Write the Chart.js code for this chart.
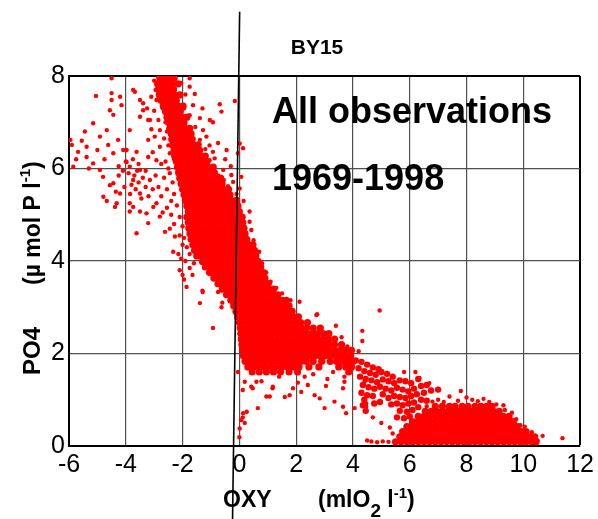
<!DOCTYPE html>
<html>
<head>
<meta charset="utf-8">
<script src="https://cdn.jsdelivr.net/npm/chart.js@4.4.0/dist/chart.umd.min.js"></script>
<style>
  html, body { margin: 0; padding: 0; background: #fff; }
  canvas { display: block; }
</style>
</head>
<body>
<canvas id="chart" width="598" height="519"></canvas>
<script>
// axes (OXY in ml O2/l, PO4 in umol P/l)
const oxyRange = [-6, 12];
const po4Range = [0, 8];
const tickStep = 2;

// reference line drawn through the plot (oxy, po4)
const refLineOxy = [0.01, -0.24];
const refLinePo4 = [9.39, -1.58];

// dense part of the cloud, read row by row: first value is PO4, the rest are OXY values
const upperBandRows = [
  [7.95, -2.8,-2.62,-2.45,-2.3],
  [7.83, -2.88,-2.7,-2.52,-2.35,-2.15],
  [7.71, -2.85,-2.68,-2.5,-2.32],
  [7.59, -2.82,-2.62,-2.45,-2.28,-2.1],
  [7.47, -2.75,-2.58,-2.4,-2.22],
  [7.35, -2.68,-2.5,-2.32,-2.15,-1.98],
  [7.23, -2.6,-2.42,-2.25,-2.08],
  [7.11, -2.55,-2.38,-2.2,-2.02,-1.85],
  [6.99, -2.48,-2.3,-2.12,-1.95],
  [6.87, -2.45,-2.28,-2.1,-1.92,-1.75],
  [6.75, -2.4,-2.22,-2.05,-1.88,-1.7],
  [6.63, -2.38,-2.2,-2.02,-1.85,-1.66],
  [6.51, -2.35,-2.16,-1.98,-1.8,-1.62,-1.45],
  [6.39, -2.3,-2.12,-1.94,-1.76,-1.58,-1.4],
  [6.27, -2.28,-2.1,-1.92,-1.74,-1.56,-1.38,-1.2],
  [6.15, -2.22,-2.04,-1.86,-1.68,-1.5,-1.32,-1.14],
  [6.03, -2.18,-2.0,-1.82,-1.64,-1.46,-1.28,-1.1,-0.92],
  [5.91, -2.14,-1.96,-1.78,-1.6,-1.42,-1.24,-1.06,-0.88],
  [5.79, -2.1,-1.92,-1.74,-1.56,-1.38,-1.2,-1.02,-0.84,-0.66],
  [5.67, -2.05,-1.87,-1.69,-1.51,-1.33,-1.15,-0.97,-0.79,-0.61],
  [5.55, -2.0,-1.82,-1.64,-1.46,-1.28,-1.1,-0.92,-0.74,-0.56,-0.38],
  [5.43, -1.95,-1.77,-1.59,-1.41,-1.23,-1.05,-0.87,-0.69,-0.51,-0.33],
  [5.31, -1.9,-1.72,-1.54,-1.36,-1.18,-1.0,-0.82,-0.64,-0.46,-0.28,-0.1],
  [5.19, -1.85,-1.67,-1.49,-1.31,-1.13,-0.95,-0.77,-0.59,-0.41,-0.23,-0.05],
  [5.07, -1.8,-1.62,-1.44,-1.26,-1.08,-0.9,-0.72,-0.54,-0.36,-0.18,0.0],
  [4.95, -1.85,-1.66,-1.48,-1.3,-1.12,-0.94,-0.76,-0.58,-0.4,-0.22,-0.04,0.1],
  [4.83, -1.8,-1.62,-1.44,-1.26,-1.08,-0.9,-0.72,-0.54,-0.36,-0.18,0.0,0.12],
  [4.71, -1.78,-1.6,-1.42,-1.24,-1.06,-0.88,-0.7,-0.52,-0.34,-0.16,0.02,0.16],
  [4.59, -1.74,-1.56,-1.38,-1.2,-1.02,-0.84,-0.66,-0.48,-0.3,-0.12,0.06,0.2],
  [4.47, -1.7,-1.52,-1.34,-1.16,-0.98,-0.8,-0.62,-0.44,-0.26,-0.08,0.1,0.26],
  [4.35, -1.64,-1.46,-1.28,-1.1,-0.92,-0.74,-0.56,-0.38,-0.2,-0.02,0.16,0.34,0.48],
  [4.23, -1.58,-1.4,-1.22,-1.04,-0.86,-0.68,-0.5,-0.32,-0.14,0.04,0.22,0.38,0.53],
  [4.11, -1.5,-1.32,-1.14,-0.96,-0.78,-0.6,-0.42,-0.24,-0.06,0.12,0.3,0.45,0.58]
];

const middleBandRows = [
  [3.99, -1.3,-1.12,-0.94,-0.76,-0.58,-0.4,-0.22,-0.04,0.14,0.32,0.5,0.66],
  [3.87, -1.2,-1.02,-0.84,-0.66,-0.48,-0.3,-0.12,0.06,0.24,0.42,0.6,0.75],
  [3.75, -1.05,-0.87,-0.69,-0.51,-0.33,-0.15,0.03,0.21,0.39,0.57,0.75,0.85],
  [3.63, -0.9,-0.72,-0.54,-0.36,-0.18,0.0,0.18,0.36,0.54,0.72,0.9],
  [3.51, -0.75,-0.57,-0.39,-0.21,-0.03,0.15,0.33,0.51,0.69,0.87,1.02],
  [3.39, -0.6,-0.42,-0.24,-0.06,0.12,0.3,0.48,0.66,0.84,1.02,1.2],
  [3.27, -0.45,-0.27,-0.09,0.09,0.27,0.45,0.63,0.81,0.99,1.17,1.35],
  [3.15, -0.3,-0.12,0.06,0.24,0.42,0.6,0.78,0.96,1.14,1.32,1.5,1.65],
  [3.03, -0.2,-0.02,0.16,0.34,0.52,0.7,0.88,1.06,1.24,1.42,1.6,1.75],
  [2.91, -0.12,0.06,0.24,0.42,0.6,0.78,0.96,1.14,1.32,1.5,1.68,1.86],
  [2.79, -0.06,0.12,0.3,0.48,0.66,0.84,1.02,1.2,1.38,1.56,1.74,1.92,2.08],
  [2.67, 0.0,0.18,0.36,0.54,0.72,0.9,1.08,1.26,1.44,1.62,1.8,1.98,2.16,2.4],
  [2.55, 0.03,0.21,0.39,0.57,0.75,0.93,1.11,1.29,1.47,1.65,1.83,2.01,2.19,2.37,2.6,2.85],
  [2.43, 0.05,0.23,0.41,0.59,0.77,0.95,1.13,1.31,1.49,1.67,1.85,2.03,2.21,2.39,2.57,2.75,2.95,3.15],
  [2.31, 0.07,0.25,0.43,0.61,0.79,0.97,1.15,1.33,1.51,1.69,1.87,2.05,2.23,2.41,2.59,2.77,2.95,3.13,3.35],
  [2.19, 0.09,0.27,0.45,0.63,0.81,0.99,1.17,1.35,1.53,1.71,1.89,2.07,2.25,2.43,2.61,2.79,2.97,3.15,3.35,3.6],
  [2.07, 0.11,0.29,0.47,0.65,0.83,1.01,1.19,1.37,1.55,1.73,1.91,2.09,2.27,2.45,2.63,2.81,2.99,3.17,3.35,3.55,3.75,3.95],
  [1.95, 0.14,0.32,0.5,0.68,0.86,1.04,1.22,1.4,1.58,1.76,1.94,2.12,2.3,2.48,2.66,2.84,3.02,3.2,3.38,3.56,3.74,3.92],
  [1.83, 0.2,0.38,0.56,0.74,0.92,1.1,1.28,1.46,1.64,1.82,2.0,2.18,2.36,2.6,2.9,3.2,3.42,3.62,3.82,4.0],
  [1.71, 0.3,0.5,0.7,0.9,1.1,1.3,1.5,1.7,1.9,2.1,2.45,2.8,3.5,3.75,3.95],
  [1.6, 0.45,0.7,0.95,1.2,1.45,1.75,2.05,3.85]
];

const surfaceRows = [
  [0.86, 6.9,7.15,7.4,7.6,7.85,8.05,8.3,8.5,8.7,8.9],
  [0.75, 6.55,6.75,6.95,7.15,7.35,7.55,7.75,7.95,8.15,8.35,8.55,8.75,8.95,9.15],
  [0.64, 6.3,6.5,6.7,6.9,7.1,7.3,7.5,7.7,7.9,8.1,8.3,8.5,8.7,8.9,9.1,9.3,9.5],
  [0.53, 6.1,6.3,6.5,6.7,6.9,7.1,7.3,7.5,7.7,7.9,8.1,8.3,8.5,8.7,8.9,9.1,9.3,9.5,9.65],
  [0.42, 5.9,6.1,6.3,6.5,6.7,6.9,7.1,7.3,7.5,7.7,7.9,8.1,8.3,8.5,8.7,8.9,9.1,9.3,9.5,9.7,9.8],
  [0.31, 5.75,5.95,6.15,6.35,6.55,6.75,6.95,7.15,7.35,7.55,7.75,7.95,8.15,8.35,8.55,8.75,8.95,9.15,9.35,9.55,9.75,9.95,10.1],
  [0.2, 5.65,5.85,6.05,6.25,6.45,6.65,6.85,7.05,7.25,7.45,7.65,7.85,8.05,8.25,8.45,8.65,8.85,9.05,9.25,9.45,9.65,9.85,10.05,10.25,10.4],
  [0.09, 5.5,5.7,5.9,6.1,6.3,6.5,6.7,6.9,7.1,7.3,7.5,7.7,7.9,8.1,8.3,8.5,8.7,8.9,9.1,9.3,9.5,9.7,9.9,10.1,10.3,10.45]
];

// band between 4 and 7 ml/l, as [oxy, po4]
const lowerBand = [
  [4.1,1.85],[4.3,1.82],[4.5,1.76],[4.7,1.7],[4.9,1.66],[4.2,1.68],[4.4,1.62],[4.6,1.58],[4.8,1.54],
  [5.0,1.6],[5.2,1.56],[5.4,1.5],[4.25,1.5],[4.45,1.45],[4.65,1.42],[4.85,1.38],[5.05,1.44],[5.25,1.4],
  [5.45,1.36],[5.65,1.42],[5.85,1.4],[6.05,1.36],[6.3,1.45],[4.35,1.32],[4.55,1.27],[4.75,1.24],[4.95,1.28],
  [5.15,1.24],[5.35,1.2],[5.55,1.26],[5.75,1.22],[5.95,1.18],[6.15,1.24],[6.4,1.3],[6.6,1.32],[4.3,1.15],
  [4.5,1.1],[4.4,1.0],[4.35,0.88],[4.45,0.76],[4.7,1.08],[5.05,1.12],[5.25,1.04],[5.45,1.08],[5.65,1.06],
  [5.85,1.04],[6.05,1.08],[6.25,1.12],[6.5,1.15],[6.75,1.2],[7.0,1.22],[5.35,0.9],[5.55,0.92],[5.75,0.88],
  [5.95,0.92],[6.15,0.94],[6.4,1.0],[6.6,0.98],[5.65,0.76],[5.9,0.74],[6.1,0.78],[6.3,0.84],[5.55,0.62],
  [5.8,0.6],[6.0,0.64],[4.75,0.92],[4.95,0.95]
];

// scattered deep-water observations left of the band
const leftScatter = [
  [-4.5,7.95],[-5.05,7.57],[-4.5,7.63],[-4.5,7.48],[-4.15,7.37],[-4.44,7.16],[-5.15,6.98],[-5.44,6.8],
  [-4.91,6.69],[-5.9,6.51],[-5.68,6.36],[-5.38,6.25],[-5.85,6.04],[-5.15,6.11],[-4.91,5.97],[-4.8,5.82],
  [-4.56,5.64],[-4.44,6.33],[-4.62,6.51],[-4.27,6.62],[-3.86,6.83],[-3.5,7.12],[-3.39,7.41],[-3.68,7.66],
  [-3.21,7.05],[-2.8,6.83],[-3.21,6.62],[-3.62,6.36],[-3.97,6.4],[-3.86,6.04],[-3.5,5.97],
  [-5.95,6.62],[-5.75,6.2],[-5.38,6.47],[-4.67,6.83],[-4.56,7.26],[-4.2,7.55],[-4.09,6.4],[-3.97,6.14],
  [-4.44,5.68],[-4.2,5.46],[-4.79,5.39],[-4.32,5.25],[-3.74,5.75],[-3.5,5.46],[-3.74,5.17],[-3.27,5.03],
  [-3.62,4.6],[-2.92,5.25],[-3.74,7.7],[-3.5,7.48],[-3.39,7.26],[-3.15,7.05],[-2.92,7.48],[-2.98,6.69],
  [-2.8,6.47],[-3.21,6.25],[-2.92,6.18],[-2.45,6.33],
  [-4.67,5.3],[-4.38,5.17],[-3.86,5.07],[-3.5,5.07],[-3.86,5.25],[-3.21,4.82],[-2.8,4.96],[-3.03,5.17],
  [-2.62,4.63],[-2.33,4.2],[-2.27,4.53],[-2.1,3.8],[-1.86,3.44],[-2.0,3.7],[-1.3,3.36],[-1.39,3.09],
  [-0.63,3.0],[-0.93,2.55],[-1.29,3.33],[-0.75,3.33],[-0.6,3.1],
  [-3.9,5.9],[-3.7,5.85],[-3.55,5.7],[-3.4,5.8],[-3.3,5.6],[-3.65,5.55],[-3.85,5.45],[-3.45,5.35],
  [-3.6,5.95],[-3.3,5.95],[-3.15,5.75],[-3.05,5.55],[-3.2,5.4],[-2.95,5.85],[-2.85,5.6],[-2.75,5.4],
  [-2.65,5.8],[-2.55,5.55],[-2.5,6.0],[-2.6,6.15],[-2.75,6.1],[-3.05,6.35],[-2.4,5.3],[-2.55,5.15],
  [-2.7,5.05],[-2.4,5.0],[-2.3,4.8],[-2.45,4.7],[-2.1,4.55],[-2.0,4.35],[-2.15,4.15],[-1.9,4.0],
  [-1.75,3.85],[-1.65,3.7],[-1.95,3.6],
  [-4.1,5.95],[-4.0,6.15],[-3.75,6.2],[-3.55,6.1],[-4.25,5.85],[-4.05,5.6],[-3.8,5.65],
  [-3.0,7.9],[-2.95,7.7],[-3.1,7.55],[-3.25,7.3],[-3.0,7.25],[-2.85,7.05],[-3.1,6.85],[-2.65,6.65],
  [-2.35,5.7],[-2.3,5.45],[-2.2,5.2],[-2.1,4.95],[-2.0,4.75],[-1.95,4.5],[-1.85,4.3],[-1.75,4.15],
  [-1.6,3.95],[-2.5,6.5],[-2.55,6.8],[-2.6,7.0],[-2.7,7.3],[-2.45,5.9],[-2.3,6.2],[-2.05,4.05],
  [-5.55,6.6],[-5.3,6.0],[-4.75,6.2],[-4.25,6.05],[-5.0,6.4],[-4.35,5.5]
];

// scattered points right of the band
const rightScatter = [
  [-1.75,7.95],[-1.75,7.77],[-1.57,7.61],[-1.63,7.37],[-0.69,7.39],[-0.63,7.23],[-0.16,7.46],[-1.39,7.09],
  [-1.04,7.05],[-0.93,7.0],[-1.28,6.83],[-1.16,6.69],[-1.39,6.62],[-1.2,6.42],[-0.93,6.36],[-0.87,6.22],
  [-1.05,6.18],[0.01,6.54],[0.13,6.44],[-0.05,6.33],[-0.57,5.97],[-0.28,5.86],[0.07,5.82],[0.01,5.57],
  [-0.4,5.62],[-0.22,5.71],[-0.1,5.45],[0.15,5.3],[0.36,5.07],[0.36,4.85],[0.42,4.67],[0.5,4.45],
  [0.7,4.2],[0.8,3.95],[0.95,3.75],[1.1,3.55],[1.3,3.42],[1.5,3.3],[1.8,3.15],[2.12,3.12],
  [-1.9,7.6],[-2.05,7.85],[-1.95,7.3],[-1.75,7.15],[-1.55,6.9],[-0.75,6.55],[-0.5,6.2],[-0.3,6.05],
  [2.74,2.85],[3.15,2.42],[4.94,2.93],[4.33,2.49],[4.33,2.27],[2.71,2.83],[2.83,2.54],[3.4,2.6],
  [3.6,2.35],[3.8,2.15],[4.2,2.05],[-0.75,5.85],[-0.55,5.75],[-0.45,6.4],[-1.05,6.5],[-1.3,7.3]
];

// points below the band, near-surface strays and bumps on the surface cluster
const lowScatter = [
  [-0.05,1.6],[0.12,1.21],[0.47,1.25],[0.26,0.74],[0.12,0.62],[0.19,0.5],[0.0,0.19],[0.13,0.71],
  [0.07,0.56],[0.01,0.38],[0.95,1.07],[0.65,0.82],[1.17,1.25],[1.6,1.06],[0.19,1.39],[0.6,1.39],
  [0.78,1.4],[0.42,1.28],[1.07,1.07],[1.18,1.28],[1.77,1.1],[1.89,1.25],[2.18,1.17],[2.41,1.32],
  [2.65,1.1],[2.83,1.03],[3.0,0.82],[3.65,0.85],[3.76,0.71],[3.35,0.96],[3.65,1.25],[3.7,1.39],
  [3.7,1.5],[4.06,0.82],[4.47,0.92],[4.41,1.39],[2.06,1.37],[1.4,1.5],[2.3,1.5],[2.6,1.55],
  [3.1,1.45],[3.3,1.6],[3.05,1.3],
  [7.8,1.19],[7.4,1.07],[6.34,1.47],[6.69,1.36],[10.68,0.22],[11.38,0.17],[8.2,1.0],[8.6,1.02],
  [9.3,0.88],[5.4,0.27],[4.5,0.12],[4.65,0.1],[4.85,0.08],[5.05,0.1],[5.25,0.09],[4.47,0.85],
  [4.7,0.62],[5.0,0.5],[5.3,0.4],[9.6,0.72],[9.9,0.45],[10.3,0.3],[7.0,1.0],[6.2,1.6],[5.8,1.6],
  [7.2,0.95],[7.7,0.98],[8.4,0.97],[8.8,0.95],[9.05,0.9],[6.6,0.86],[9.35,0.78],[9.75,0.58],
  [10.05,0.42],[10.5,0.12],[6.8,0.96],[8.0,1.05]
];

function rowsToPoints(rows) {
  const pts = [];
  for (const r of rows) {
    for (let i = 1; i < r.length; i++) pts.push({ x: r[i], y: r[0] });
  }
  return pts;
}
const pairsToPoints = pairs => pairs.map(([x, y]) => ({ x, y }));

const RED = "#ff0000";
const FONT = "'Liberation Sans', Arial, Helvetica, sans-serif";

function cloud(data, radius) {
  return {
    data,
    pointRadius: radius,
    pointBackgroundColor: RED,
    pointBorderWidth: 0,
    showLine: false,
    order: 1
  };
}

// text overlays: title, the two annotation lines, axis titles with sub/superscripts
const textPlugin = {
  id: "texts",
  afterDraw(chart) {
    const ctx = chart.ctx;
    ctx.save();
    ctx.fillStyle = "#000";
    ctx.textBaseline = "alphabetic";

    ctx.font = `bold 21px ${FONT}`;
    ctx.textAlign = "center";
    ctx.fillText("BY15", 317, 54);

    ctx.textAlign = "left";
    ctx.font = `bold 36px ${FONT}`;
    ctx.fillText("All observations", 272, 123);
    ctx.fillText("1969-1998", 272, 190);

    // x title
    ctx.font = `bold 23px ${FONT}`;
    ctx.fillText("OXY", 223, 507);
    let x = 318;
    const put = (txt, size, y) => {
      ctx.font = `bold ${size}px ${FONT}`;
      ctx.fillText(txt, x, y);
      x += ctx.measureText(txt).width;
    };
    put("(mlO", 23, 507);
    put("2", 19, 517);
    put(" l", 23, 507);
    put("-1", 15, 498);
    put(")", 23, 507);

    // y title, rotated
    ctx.translate(40, 375);
    ctx.rotate(-Math.PI / 2);
    ctx.font = `bold 24px ${FONT}`;
    ctx.fillText("PO4", 0, 0);
    x = 90;
    const putR = (txt, size, y) => {
      ctx.font = `bold ${size}px ${FONT}`;
      ctx.fillText(txt, x, y);
      x += ctx.measureText(txt).width;
    };
    putR("(\u00b5 mol P l", 23, 0);
    putR("-1", 15, -10);
    putR(")", 23, 0);
    ctx.restore();
  }
};

const edgeColor = (c, edge) => (c.tick && c.tick.value === edge ? "#000" : "#505050");
const edgeWidth = (c, edge) => (c.tick && c.tick.value === edge ? 2 : 1.2);

new Chart(document.getElementById("chart"), {
  type: "scatter",
  data: {
    datasets: [
      {
        data: refLineOxy.map((x, i) => ({ x, y: refLinePo4[i] })),
        showLine: true,
        borderColor: "#000",
        borderWidth: 1.6,
        pointRadius: 0,
        clip: false,
        order: 0
      },
      cloud(rowsToPoints(upperBandRows), 3.6),
      cloud(rowsToPoints(middleBandRows), 3.6),
      cloud(rowsToPoints(surfaceRows), 3.6),
      cloud(pairsToPoints(lowerBand), 3.2),
      cloud(pairsToPoints(leftScatter), 2.2),
      cloud(pairsToPoints(rightScatter), 2.2),
      cloud(pairsToPoints(lowScatter), 2.2)
    ]
  },
  options: {
    responsive: false,
    devicePixelRatio: 1,
    animation: false,
    layout: { padding: { top: 76, right: 17, left: 0, bottom: 0 } },
    plugins: { legend: { display: false }, tooltip: { enabled: false } },
    scales: {
      x: {
        type: "linear",
        min: oxyRange[0],
        max: oxyRange[1],
        afterFit: s => { s.height = 73; },
        ticks: { stepSize: tickStep, color: "#000", padding: 4, font: { family: FONT, size: 25 } },
        grid: {
          drawTicks: false,
          color: c => edgeColor(c, oxyRange[1]),
          lineWidth: c => edgeWidth(c, oxyRange[1])
        },
        border: { display: true, color: "#000", width: 2 }
      },
      y: {
        type: "linear",
        min: po4Range[0],
        max: po4Range[1],
        afterFit: s => { s.width = 69; },
        ticks: { stepSize: tickStep, color: "#000", padding: 4, font: { family: FONT, size: 25 } },
        grid: {
          drawTicks: false,
          color: c => edgeColor(c, po4Range[1]),
          lineWidth: c => edgeWidth(c, po4Range[1])
        },
        border: { display: true, color: "#000", width: 2 }
      }
    }
  },
  plugins: [textPlugin]
});
</script>
</body>
</html>
